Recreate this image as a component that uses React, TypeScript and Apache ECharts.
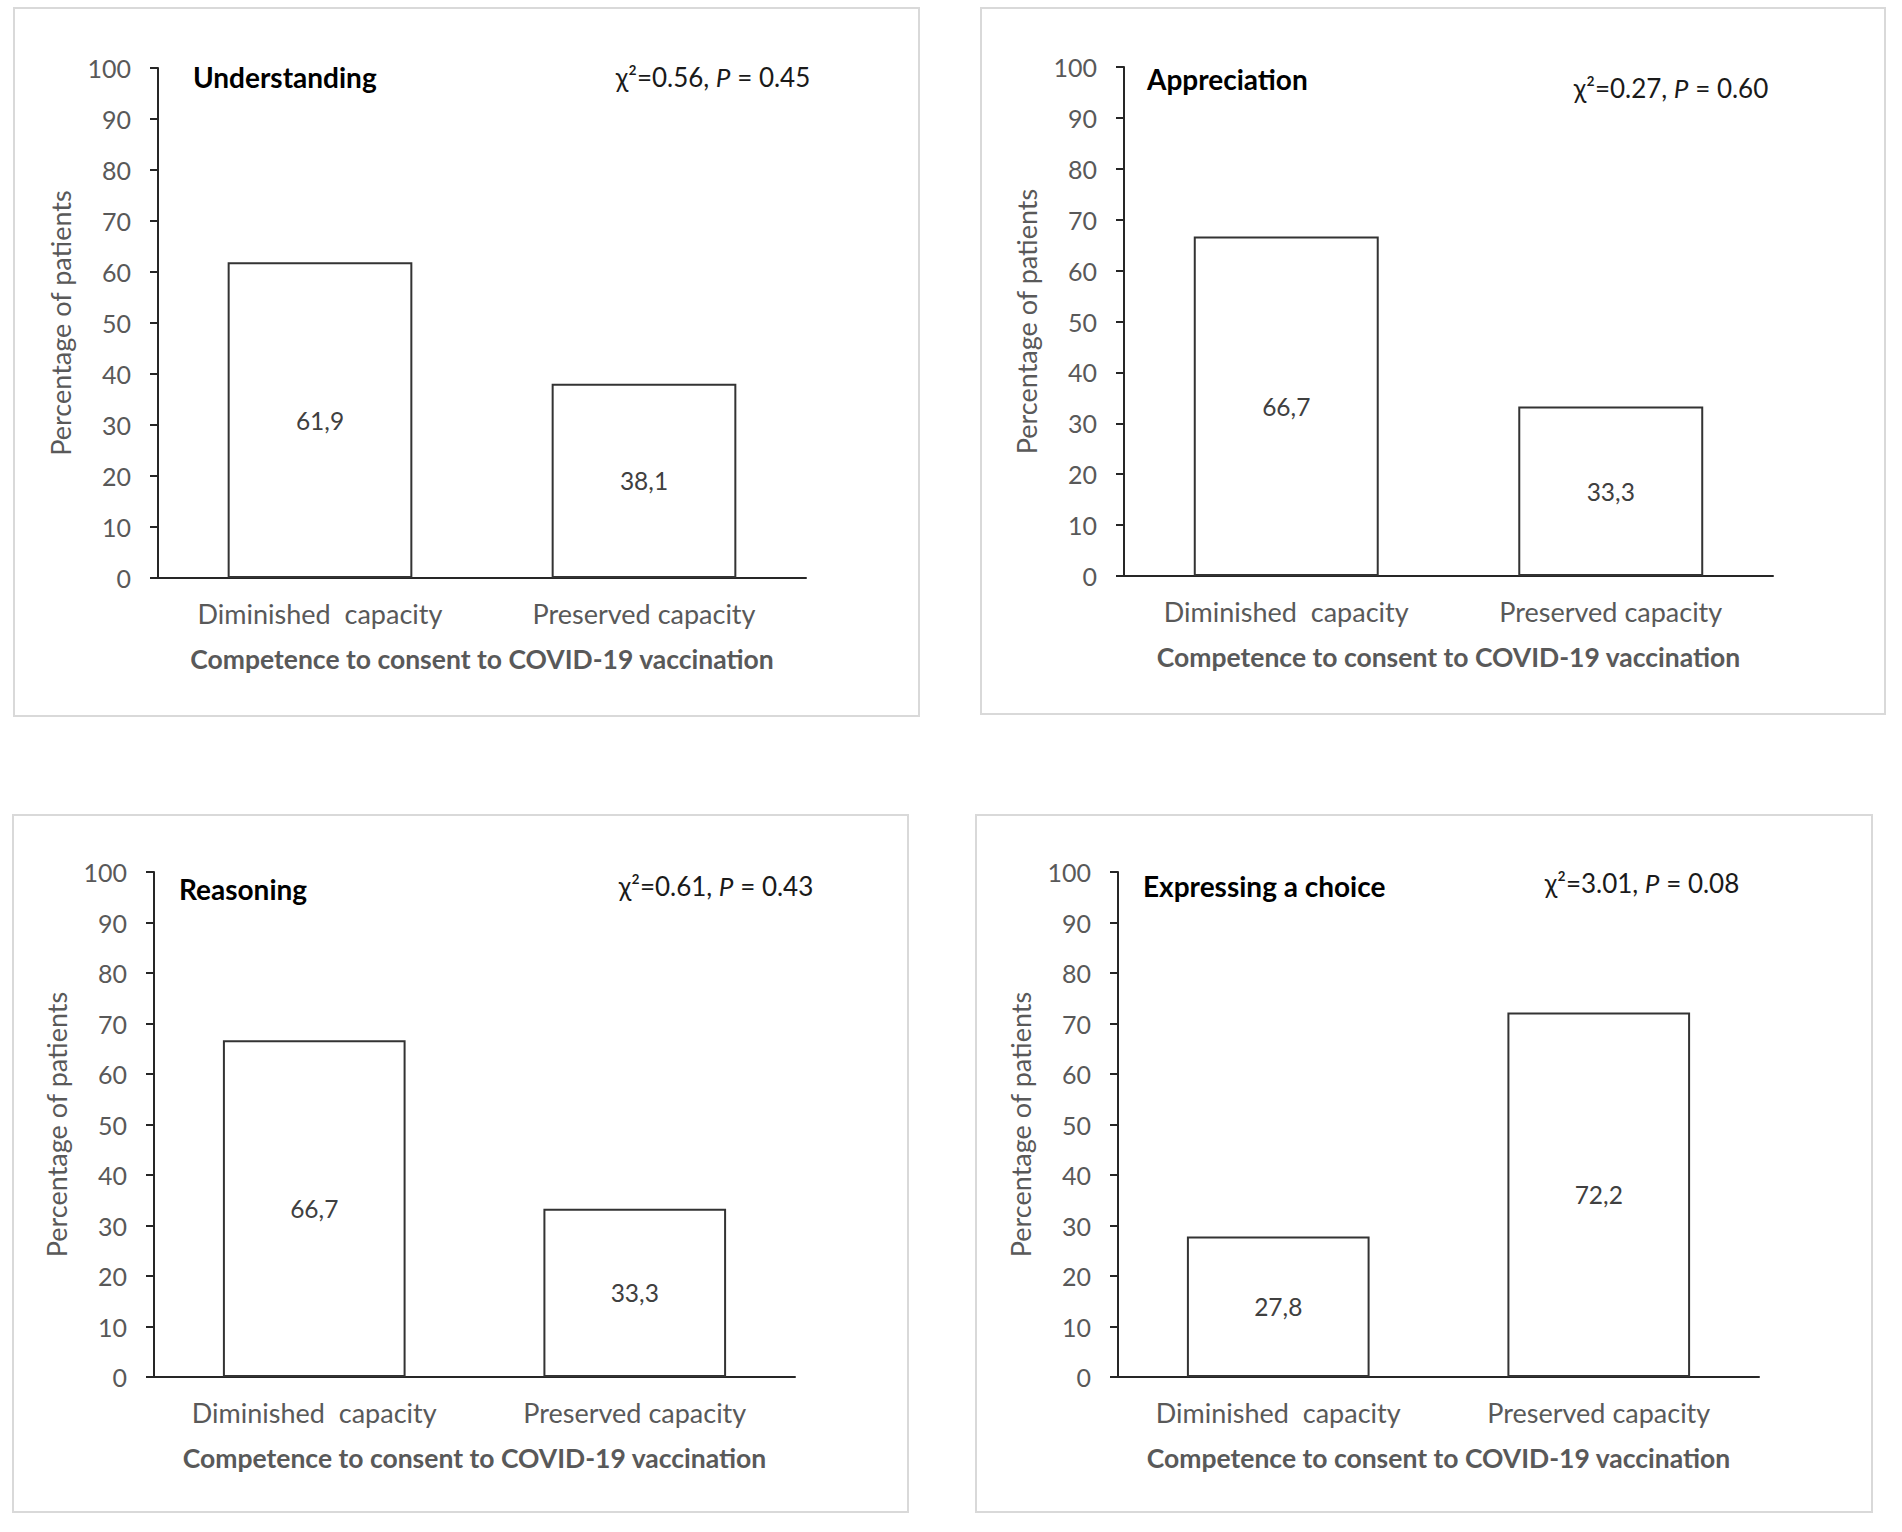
import React, { useEffect, useRef } from "react";
import * as echarts from "echarts";

// ---- data ----
const categories = ["Diminished  capacity", "Preserved capacity"];
const understandingValues = [61.9, 38.1];
const appreciationValues = [66.7, 33.3];
const reasoningValues = [66.7, 33.3];
const choiceValues = [27.8, 72.2];
const panelTitles = ["Understanding", "Appreciation", "Reasoning", "Expressing a choice"];
const chiSquareValues = ["0.56", "0.27", "0.61", "3.01"];
const pValues = ["0.45", "0.60", "0.43", "0.08"];
const yMin = 0;
const yMax = 100;
const yInterval = 10;
const yAxisTitle = "Percentage of patients";
const xAxisTitle = "Competence to consent to COVID-19 vaccination";

const seriesValues = [understandingValues, appreciationValues, reasoningValues, choiceValues];

// ---- layout ----
const layouts = [
  { grid: { left: 158, top: 68, width: 648, height: 510 }, box: [14, 8, 905, 708], title: [193, 77], chi: [713, 77] },
  { grid: { left: 1124, top: 67, width: 649, height: 509 }, box: [981, 8, 904, 706], title: [1147, 79], chi: [1671, 88] },
  { grid: { left: 154, top: 872, width: 641, height: 505 }, box: [13, 815, 895, 697], title: [179, 889], chi: [716, 886] },
  { grid: { left: 1118, top: 872, width: 641, height: 505 }, box: [976, 815, 896, 697], title: [1143, 886], chi: [1642, 883] },
];

const FONT = "Lato, 'Open Sans', sans-serif";
const GREY = "#595959";
const AXIS = "#262626";

function buildOption() {
  const grids: any[] = [];
  const xAxes: any[] = [];
  const yAxes: any[] = [];
  const series: any[] = [];
  const graphics: any[] = [];

  layouts.forEach((l, i) => {
    grids.push({ ...l.grid, containLabel: false });
    xAxes.push({
      type: "category",
      gridIndex: i,
      data: categories,
      axisLine: { show: true, lineStyle: { color: AXIS, width: 2 } },
      axisTick: { show: false },
      axisLabel: { color: GREY, fontSize: 27, fontFamily: FONT, margin: 22 },
      name: xAxisTitle,
      nameLocation: "middle",
      nameGap: 67,
      nameTextStyle: { color: GREY, fontSize: 26.5, fontWeight: "bold", fontFamily: FONT },
      splitLine: { show: false },
    });
    yAxes.push({
      type: "value",
      gridIndex: i,
      min: yMin,
      max: yMax,
      interval: yInterval,
      axisLine: { show: true, lineStyle: { color: AXIS, width: 2 } },
      axisTick: { show: true, inside: false, length: 8, lineStyle: { color: AXIS, width: 2 } },
      axisLabel: { color: GREY, fontSize: 25, fontFamily: FONT, margin: 27 },
      splitLine: { show: false },
      name: yAxisTitle,
      nameLocation: "middle",
      nameGap: 84,
      nameTextStyle: { color: GREY, fontSize: 27, fontFamily: FONT },
    });
    series.push({
      type: "bar",
      xAxisIndex: i,
      yAxisIndex: i,
      data: seriesValues[i],
      barWidth: "57%",
      itemStyle: { color: "#ffffff", borderColor: "#333333", borderWidth: 2 },
      label: {
        show: true,
        position: "inside",
        color: "#404040",
        fontSize: 24.5,
        fontFamily: FONT,
        formatter: (p: any) => Number(p.value).toFixed(1).replace(".", ","),
      },
      silent: true,
    });
    graphics.push({
      type: "rect",
      shape: { x: l.box[0], y: l.box[1], width: l.box[2], height: l.box[3] },
      style: { fill: "none", stroke: "#d9d9d9", lineWidth: 2 },
      z: -1,
    });
    graphics.push({
      type: "text",
      x: l.title[0],
      y: l.title[1],
      style: {
        text: panelTitles[i],
        fill: "#000000",
        font: `bold 28px ${FONT}`,
        textAlign: "left",
        textVerticalAlign: "middle",
      },
    });
    graphics.push({
      type: "text",
      x: l.chi[0],
      y: l.chi[1],
      style: {
        text: `{a|χ²=${chiSquareValues[i]}, }{i|P}{a| = ${pValues[i]}}`,
        rich: {
          a: { fontSize: 26, fontFamily: FONT, fill: "#1a1a1a", color: "#1a1a1a" },
          i: { fontSize: 26, fontFamily: FONT, fontStyle: "italic", fill: "#1a1a1a", color: "#1a1a1a" },
        },
        textAlign: "center",
        textVerticalAlign: "middle",
      },
    });
  });

  return {
    animation: false,
    backgroundColor: "#ffffff",
    grid: grids,
    xAxis: xAxes,
    yAxis: yAxes,
    series,
    graphic: graphics,
  };
}

export default function App() {
  const ref = useRef<HTMLDivElement | null>(null);
  useEffect(() => {
    document.body.style.margin = "0";
    if (!ref.current) return;
    const chart = echarts.init(ref.current, undefined, { renderer: "svg" });
    chart.setOption(buildOption() as any);
    return () => chart.dispose();
  }, []);
  return <div ref={ref} style={{ width: 1902, height: 1532, background: "#fff" }} />;
}
